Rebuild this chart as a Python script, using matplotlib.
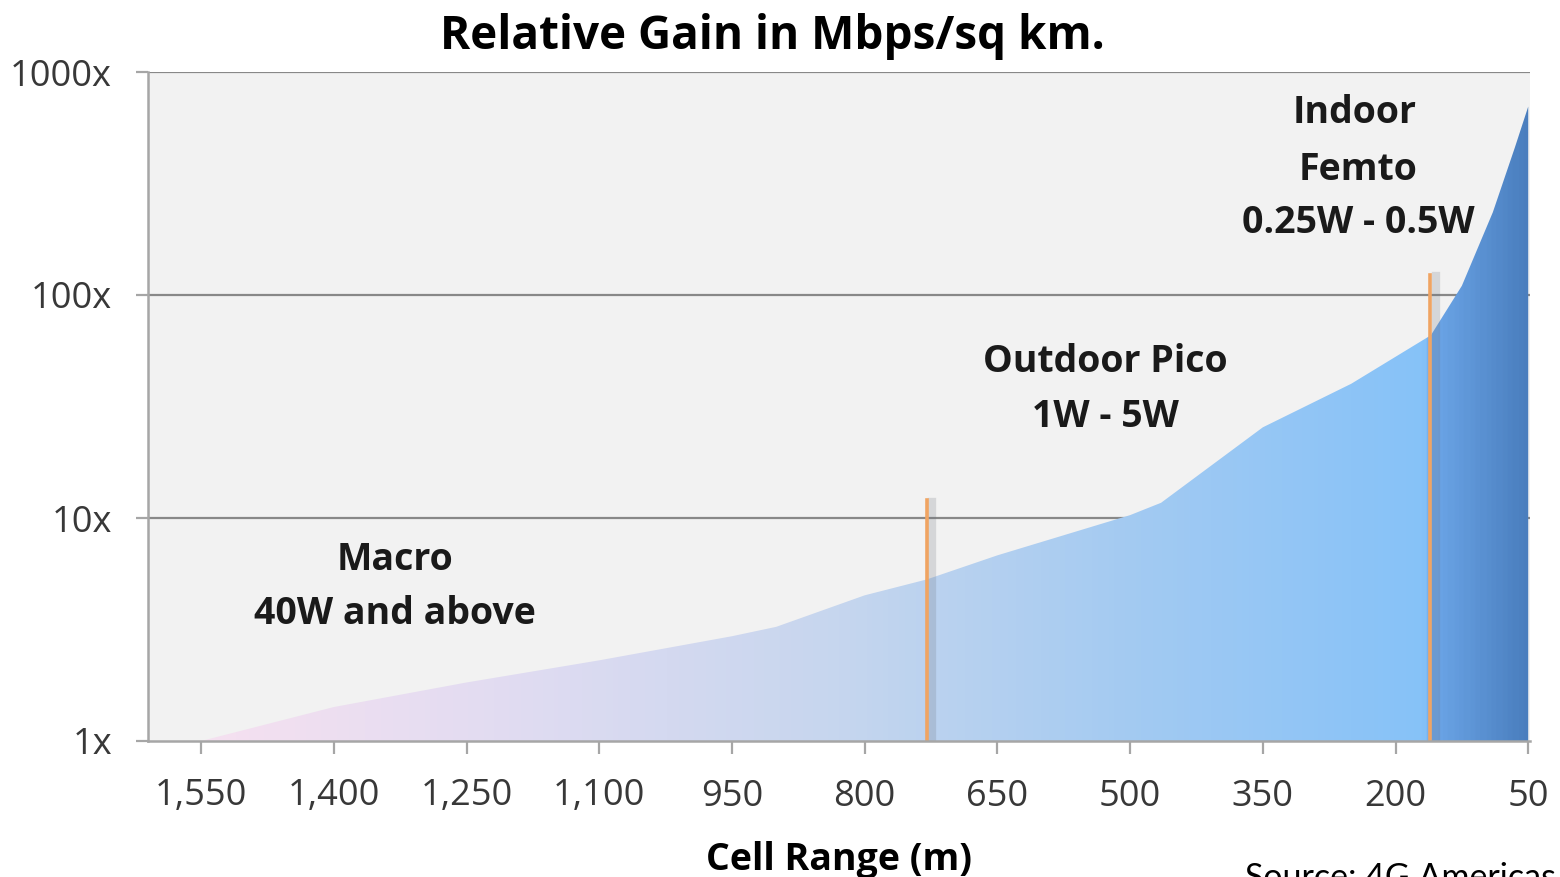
import numpy as np
import matplotlib
matplotlib.use("Agg")
import matplotlib.pyplot as plt
import matplotlib.patheffects as pe
from matplotlib.colors import LinearSegmentedColormap
from matplotlib.ticker import FixedLocator, FuncFormatter, NullLocator

# curve: cell range (m) vs relative gain
cell_range = [1550, 1400, 1250, 1100, 950, 900, 800, 730, 650, 500, 465, 350, 250, 160, 125, 90, 65, 50]
gain = [1.0, 1.42, 1.83, 2.3, 2.95, 3.25, 4.5, 5.3, 6.8, 10.3, 11.7, 25.5, 40, 66, 110, 235, 460, 700]

# orange markers between cell classes
marker_x = [730, 161]
marker_top = [12, 123]

x_ticks = [1550, 1400, 1250, 1100, 950, 800, 650, 500, 350, 200, 50]
y_ticks = [1, 10, 100, 1000]

plt.rcParams['font.family'] = ['Open Sans', 'DejaVu Sans']

fig = plt.figure(figsize=(15.6, 8.77), dpi=100)
ax = fig.add_axes([148 / 1560, 1 - 741 / 877, 1382 / 1560, 669 / 877])
ax.set_facecolor('#f2f2f2')
ax.set_yscale('log')
ax.set_xlim(1610, 48)
ax.set_ylim(1, 1000)

# gradient fill clipped to the area under the curve
poly = ax.fill_between(cell_range, 1, gain, color='none', lw=0)
cmap = LinearSegmentedColormap.from_list('gain', [
    (0.0, '#f7e4f2'), (0.06, '#f4e0f0'), (0.25, '#e2dcf2'), (0.5, '#c6d6ee'),
    (0.72, '#a2caf2'), (0.925, '#86c2f8'), (0.932, '#6ca6e8'), (1.0, '#4a7ebe')])
grad = np.linspace(0, 1, 600).reshape(1, -1)
img = ax.imshow(grad, cmap=cmap, aspect='auto', extent=[1610, 48, 1, 1000],
                origin='lower', zorder=1)
img.set_clip_path(poly.get_paths()[0], transform=ax.transData)

for xv, top in zip(marker_x, marker_top):
    ax.plot([xv, xv], [1, top], color='#f0a462', lw=2.6, zorder=3,
            path_effects=[pe.SimpleLineShadow(offset=(4, -1), shadow_color='#6f7580', alpha=0.22, linewidth=6),
                          pe.Normal()])

# grid and axes
for yv in y_ticks[1:]:
    ax.axhline(yv, color='#888888', lw=1.6, zorder=0.5)
for s in ['top', 'right']:
    ax.spines[s].set_visible(False)
for s in ['left', 'bottom']:
    ax.spines[s].set_color('#a6a6a6')
    ax.spines[s].set_linewidth(1.8)
    ax.spines[s].set_zorder(4)

ax.xaxis.set_major_locator(FixedLocator(x_ticks))
ax.xaxis.set_major_formatter(FuncFormatter(lambda v, p: f"{int(v):,}"))
ax.yaxis.set_major_locator(FixedLocator(y_ticks))
ax.yaxis.set_minor_locator(NullLocator())
ax.yaxis.set_major_formatter(FuncFormatter(lambda v, p: f"{int(v)}x"))
ax.tick_params(axis='x', length=9, width=1.6, color='#a6a6a6', labelsize=26,
               labelcolor='#383838', pad=18)
ax.tick_params(axis='y', length=9, width=1.6, color='#a6a6a6', labelsize=26,
               labelcolor='#383838', pad=17)

ax.set_xlabel('Cell Range (m)', fontsize=27, fontweight='bold', labelpad=19)

fig.text(0.495, 1 - 36 / 877, 'Relative Gain in Mbps/sq km.', ha='center', va='center',
         fontsize=33, fontweight='bold')

labels = [
    ('Macro', 0.1787, 0.2706), ('40W and above', 0.1787, 0.1898),
    ('Outdoor Pico', 0.6925, 0.5665), ('1W - 5W', 0.6925, 0.4843),
    ('Indoor', 0.8734, 0.9387), ('Femto', 0.8755, 0.8535), ('0.25W - 0.5W', 0.8755, 0.7743),
]
for txt, fx, fy in labels:
    ax.text(fx, fy, txt, transform=ax.transAxes, ha='center', va='center',
            fontsize=27, fontweight='bold', color='#1a1a1a', zorder=5)

fig.text(1245 / 1560, 1 - 862 / 877, 'Source: 4G Americas', ha='left', va='top',
         fontsize=24.5, family=['Lato', 'DejaVu Sans'])

fig.savefig('out.png', dpi=100)
